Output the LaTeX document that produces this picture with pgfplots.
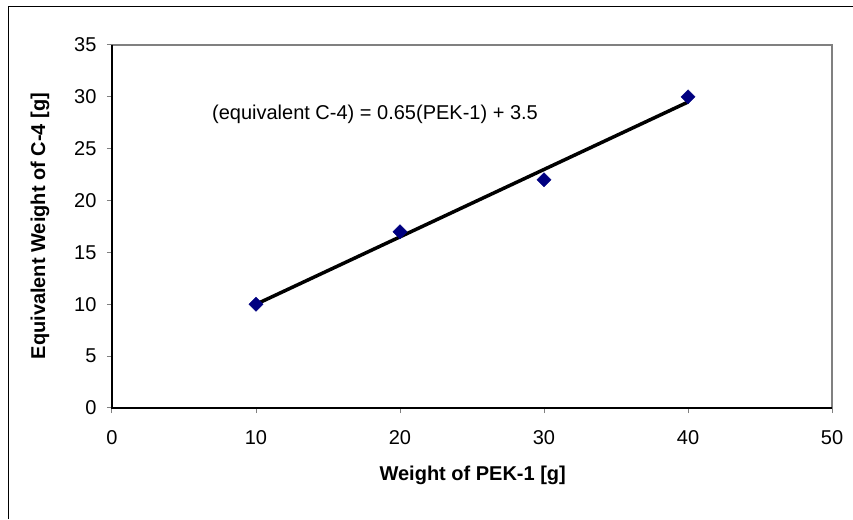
\documentclass[border=0pt]{standalone}
\usepackage{fontspec}
\setmainfont{Liberation Sans}
\usepackage{pgfplots}
\pgfplotsset{compat=1.18}
\definecolor{navymark}{RGB}{0,0,128}
\definecolor{frame}{RGB}{128,128,128}
\newcommand{\chartfont}{\fontsize{20}{24}\selectfont}

\begin{document}
\begin{tikzpicture}[x=1pt,y=1pt]
\useasboundingbox (0,0) rectangle (853,519);
\draw[black, line width=1pt] (8,0) -- (8,512) -- (853,512);
\begin{axis}[
  at={(112pt,111pt)}, anchor=south west,
  scale only axis, width=720pt, height=363pt,
  xmin=0, xmax=50, ymin=0, ymax=35,
  xtick={0,10,...,50}, ytick={0,5,...,35},
  tick pos=left, tick align=outside,
  major tick length=5pt,
  tick style={frame, line width=1pt},
  axis line style={frame, line width=1.5pt},
  tick label style={font=\chartfont},
  xticklabel style={yshift=-14pt},
  yticklabel style={xshift=-7pt},
  label style={font=\chartfont\bfseries},
  /pgf/number format/assume math mode=true,
  xlabel={Weight of PEK-1 [g]},
  ylabel={Equivalent Weight of C-4 [g]},
  x label style={at={(axis description cs:0.501,-0.185)}, anchor=center},
  y label style={at={(axis description cs:-0.1,0.501)}, anchor=center},
  clip=false,
]
\draw[black, line width=1.5pt] (axis cs:0,35) -- (axis cs:0,0) -- (axis cs:50,0);
\addplot[only marks, mark=square*, mark size=5pt,
  mark options={rotate=45, fill=navymark, draw=navymark}]
  coordinates {(10,10) (20,17) (30,22) (40,30)};
\addplot[black, line width=3.5pt] coordinates {(10,10) (40,29.5)};
\node[anchor=west, font=\chartfont, inner sep=0pt]
  at (axis cs:6.94,28.35) {(equivalent C-4) = 0.65(PEK-1) + 3.5};
\end{axis}
\end{tikzpicture}
\end{document}
